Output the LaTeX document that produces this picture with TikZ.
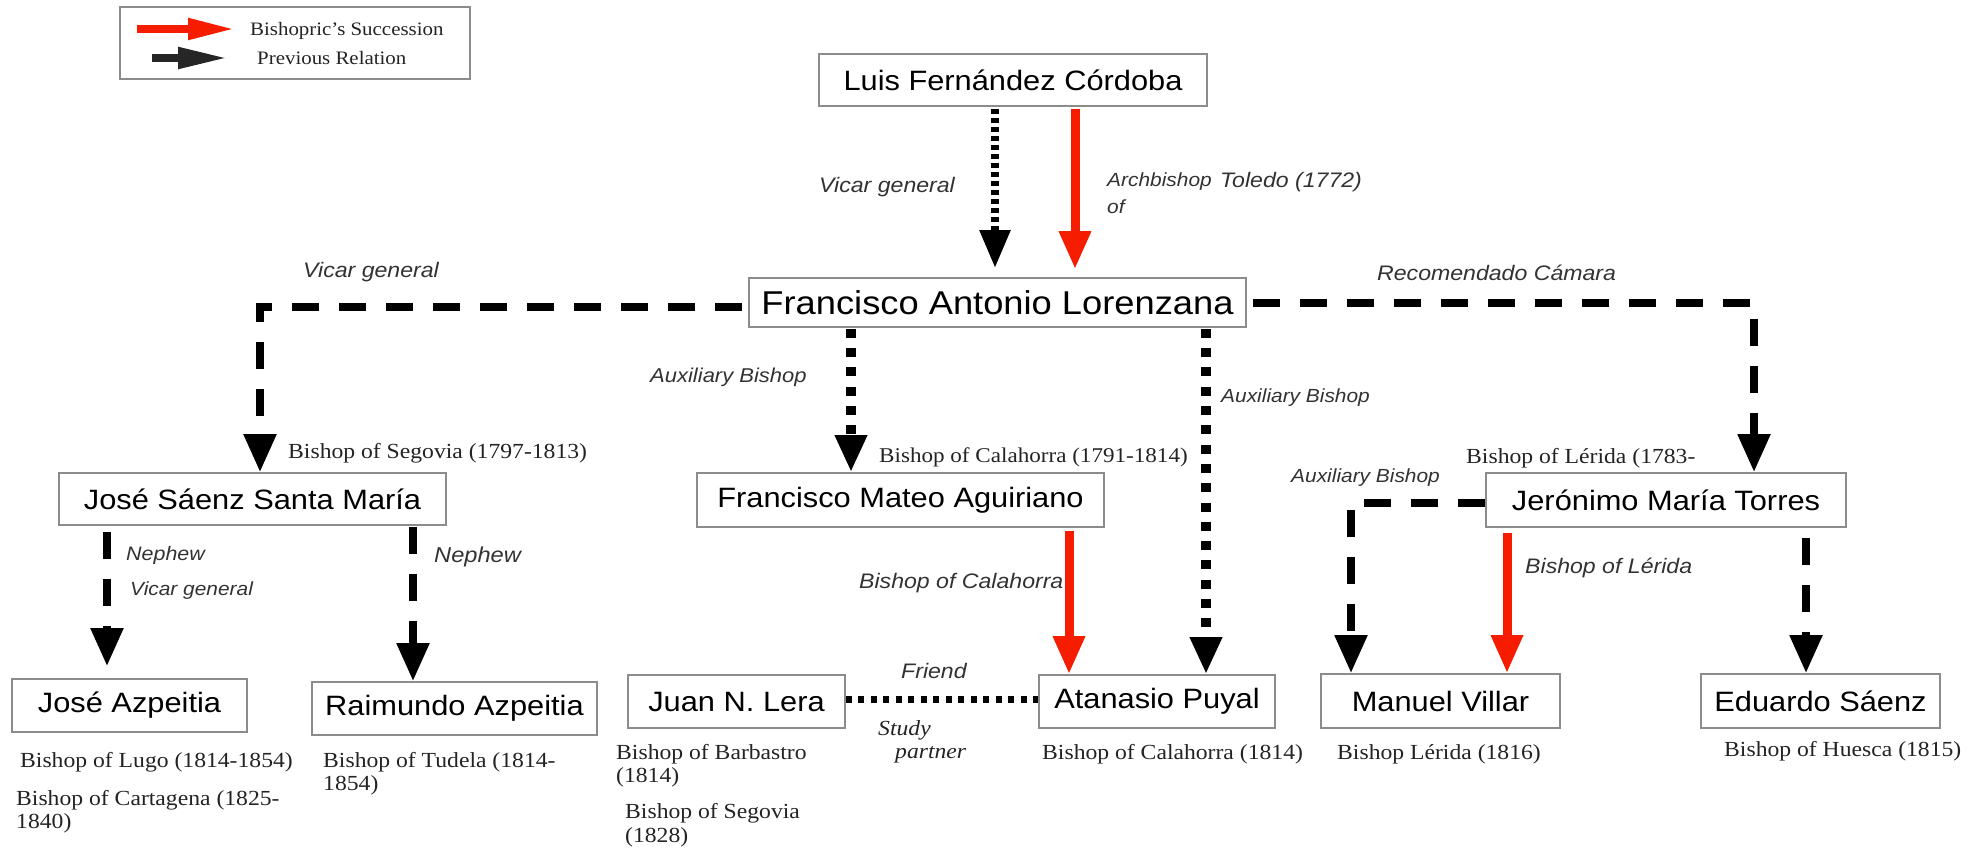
\documentclass[tikz,border=0pt]{standalone}
\usepackage{fontspec}
\setmainfont{Liberation Serif}[FakeStretch=1.1]
\setsansfont{Liberation Sans}[FakeStretch=1.1]
\usetikzlibrary{arrows.meta,calc}
\definecolor{redarr}{RGB}{245,28,0}
\definecolor{lblgray}{RGB}{50,50,50}
\definecolor{boxgray}{RGB}{140,140,140}
\definecolor{sergray}{RGB}{35,35,35}
\begin{document}
\begin{tikzpicture}[x=1pt,y=-1pt,
  person/.style={draw=boxgray, line width=1.6pt, fill=white, inner sep=0pt, text=black,
    font=\sffamily\fontsize{28}{30}\selectfont},
  lbl/.style={anchor=west, inner sep=0pt, text=lblgray, font=\sffamily\itshape\fontsize{21}{23}\selectfont},
  lbls/.style={lbl, font=\sffamily\itshape\fontsize{19}{21}\selectfont},
  ser/.style={anchor=west, inner sep=0pt, text=sergray, font=\rmfamily\fontsize{21.5}{23}\selectfont},
  seri/.style={ser, font=\rmfamily\itshape\fontsize{21.5}{23}\selectfont},
  dotA/.style={line width=8pt, dash pattern=on 5pt off 4pt, -{Triangle[width=29pt,length=38pt]}},
  dotB/.style={line width=10pt, dash pattern=on 9pt off 10.3pt, -{Triangle[width=30pt,length=37pt]}},
  dashA/.style={line width=8pt, dash pattern=on 27pt off 20pt, -{Triangle[width=31pt,length=38pt]}},
  redA/.style={line width=9pt, redarr, -{Triangle[width=30pt,length=38pt]}},
]
\useasboundingbox (0,0) rectangle (1979,848);

% legend
\node[draw=boxgray, line width=1.6pt, minimum width=350pt, minimum height=72pt, inner sep=0pt] (legend) at (295,43) {};
\coordinate (lr1) at (137,29); \coordinate (lr2) at (235,29);
\coordinate (lb1) at (152,58); \coordinate (lb2) at (228,58);
\draw[line width=8pt, redarr, -{Triangle[width=20pt,length=47pt]}] (lr1) -- (lr2);
\draw[line width=8pt, black!85, -{Triangle[width=20pt,length=50pt]}] (lb1) -- (lb2);
\node[ser, font=\rmfamily\fontsize{19}{21}\selectfont] (leg1) at (250,31) {Bishopric's Succession};
\node[ser, font=\rmfamily\fontsize{19}{21}\selectfont] (leg2) at (257,58) {Previous Relation};

% persons
\node[person, minimum width=388pt, minimum height=52pt] (luis) at (1013,80) {Luis Fernández Córdoba};
\node[person, minimum width=497pt, minimum height=49pt, font=\sffamily\fontsize{33}{35}\selectfont] (fal) at (997.5,302.5) {Francisco Antonio Lorenzana};
\node[person, minimum width=387pt, minimum height=52pt] (jsm) at (252.5,499) {José Sáenz Santa María};
\node[person, minimum width=407pt, minimum height=54pt] (fma) at (900.5,500) {Francisco Mateo Aguiriano};
\node[person, minimum width=360pt, minimum height=54pt] (jmt) at (1666,500) {Jerónimo María Torres};
\node[person, minimum width=235pt, minimum height=53pt] (ja) at (129.5,705.5) {José Azpeitia};
\node[person, minimum width=285pt, minimum height=53pt] (ra) at (454.5,708.5) {Raimundo Azpeitia};
\node[person, minimum width=217pt, minimum height=53pt] (jl) at (736.5,701.5) {Juan N. Lera};
\node[person, minimum width=236pt, minimum height=53pt] (ap) at (1157,701.5) {Atanasio Puyal};
\node[person, minimum width=239pt, minimum height=54pt] (mv) at (1440.5,701) {Manuel Villar};
\node[person, minimum width=239pt, minimum height=54pt] (es) at (1820.5,701) {Eduardo Sáenz};

% x / y guide coordinates
\coordinate (xa) at (995,0);
\coordinate (xb) at (1075,0);
\coordinate (xc) at (260,0);
\coordinate (yc) at (0,307);
\coordinate (xd) at (1754,0);
\coordinate (yd) at (0,303);
\coordinate (xe) at (851,0);
\coordinate (xf) at (1206,0);
\coordinate (xg) at (1069,0);
\coordinate (xh) at (107,0);
\coordinate (xi) at (413,0);
\coordinate (yj) at (0,699);
\coordinate (xk) at (1351,0);
\coordinate (yk) at (0,503);
\coordinate (xl) at (1507,0);
\coordinate (xm) at (1806,0);

% connectors
\draw[dotA, shorten <=2pt, shorten >=9pt] (luis.south -| xa) -- (fal.north -| xa);
\draw[redA, shorten <=2pt, shorten >=8pt] (luis.south -| xb) -- (fal.north -| xb);
\draw[dashA, shorten <=6pt] (fal.west |- yc) -| (jsm.north -| xc);
\draw[dashA, shorten <=6pt] (fal.east |- yd) -| (jmt.north -| xd);
\draw[dotB, shorten <=1pt] (fal.south -| xe) -- (fma.north -| xe);
\draw[dotB, shorten <=1pt] (fal.south -| xf) -- (ap.north -| xf);
\draw[redA, shorten <=3pt] (fma.south -| xg) -- (ap.north -| xg);
\draw[dashA, shorten <=6pt, shorten >=12pt] (jsm.south -| xh) -- (ja.north -| xh);
\draw[dashA, shorten <=1pt] (jsm.south -| xi) -- (ra.north -| xi);
\draw[line width=7pt, dash pattern=on 6pt off 6.5pt] (jl.east |- yj) -- (ap.west |- yj);
\draw[dashA] (jmt.west |- yk) -| (mv.north -| xk);
\draw[redA, shorten <=5pt] (jmt.south -| xl) -- (mv.north -| xl);
\draw[dashA, shorten <=10pt] (jmt.south -| xm) -- (es.north -| xm);

% connector labels
\node[lbl] (l1) at (819,187) {Vicar general};
\node[lbls] (l2a) at (1107,182) {Archbishop};
\node[lbl] (l2b) at (1220,182) {Toledo (1772)};
\node[lbls] (l2c) at (1107,207) {of};
\node[lbl] (l3) at (303,272) {Vicar general};
\node[lbl] (l4) at (1377,273) {Recomendado Cámara};
\node[lbl, font=\sffamily\itshape\fontsize{20}{22}\selectfont] (l5) at (650,377) {Auxiliary Bishop};
\node[lbls] (l6) at (1221,398) {Auxiliary Bishop};
\node[lbls] (l7) at (1291,478) {Auxiliary Bishop};
\node[lbls, font=\sffamily\itshape\fontsize{19.5}{21}\selectfont] (l8) at (126,555) {Nephew};
\node[lbls] (l9) at (130,591) {Vicar general};
\node[lbl, font=\sffamily\itshape\fontsize{21.5}{23}\selectfont] (l10) at (434,557) {Nephew};
\node[lbl] (l11) at (859,583) {Bishop of Calahorra};
\node[lbl] (l12) at (1525,568) {Bishop of Lérida};
\node[lbl] (l13) at (901,671) {Friend};
\node[seri] (l14a) at (878,730) {Study};
\node[seri] (l14b) at (895,755) {partner};

% bishopric notes
\node[ser] (n1) at (288,453) {Bishop of Segovia (1797-1813)};
\node[ser, font=\rmfamily\fontsize{21}{23}\selectfont] (n2) at (879,457) {Bishop of Calahorra (1791-1814)};
\node[ser] (n3) at (1466,458) {Bishop of Lérida (1783-};
\node[ser] (n4) at (20,762) {Bishop of Lugo (1814-1854)};
\node[ser] (n5a) at (16,800) {Bishop of Cartagena (1825-};
\node[ser] (n5b) at (16,823) {1840)};
\node[ser] (n6a) at (323,762) {Bishop of Tudela (1814-};
\node[ser] (n6b) at (323,785) {1854)};
\node[ser] (n7a) at (616,754) {Bishop of Barbastro};
\node[ser] (n7b) at (616,777) {(1814)};
\node[ser] (n8a) at (625,813) {Bishop of Segovia};
\node[ser] (n8b) at (625,837) {(1828)};
\node[ser] (n9) at (1042,754) {Bishop of Calahorra (1814)};
\node[ser] (n10) at (1337,754) {Bishop Lérida (1816)};
\node[ser] (n11) at (1724,751) {Bishop of Huesca (1815)};
\end{tikzpicture}
\end{document}
